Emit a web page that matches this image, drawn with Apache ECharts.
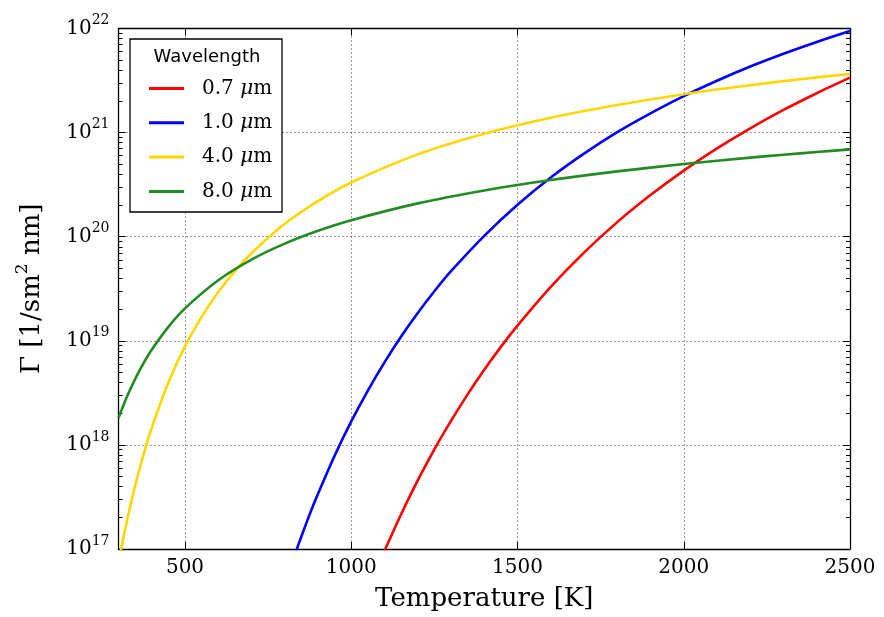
<!DOCTYPE html>
<html>
<head>
<meta charset="utf-8">
<script src="https://cdn.jsdelivr.net/npm/echarts@6/dist/echarts.min.js"></script>
<style>
html,body{margin:0;padding:0;background:#fff;}
#chart{width:884px;height:617px;}
</style>
</head>
<body>
<div id="chart"></div>
<script>
// ---- data ----
const seriesNames = ['0.7', '1.0', '4.0', '8.0'];
const seriesColors = ['#ff0000', '#0000ff', '#ffd700', '#228b22'];

const redT = [1090,1100,1150,1200,1250,1300,1350,1400,1450,1500,1600,1700,1800,1900,2000,2100,2200,2300,2400,2500];
const red = [8.1e16,9.6e16,2.16e17,4.56e17,9.06e17,1.70e18,3.06e18,5.27e18,8.74e18,1.40e19,3.30e19,7.04e19,1.38e20,2.51e20,4.31e20,7.04e20,1.10e21,1.65e21,2.39e21,3.37e21];

const blueT = [830,850,875,900,950,1000,1050,1100,1150,1200,1250,1300,1400,1500,1600,1700,1800,1900,2000,2100,2200,2300,2400,2500];
const blue = [8.8e16,1.32e17,2.15e17,3.39e17,7.88e17,1.68e18,3.33e18,6.21e18,1.10e19,1.85e19,2.99e19,4.66e19,1.02e20,2.03e20,3.71e20,6.29e20,1.01e21,1.53e21,2.24e21,3.15e21,4.31e21,5.72e21,7.43e21,9.46e21];

const yellowT = [300,310,325,350,375,400,450,500,550,600,650,700,800,900,1000,1200,1400,1600,1800,2000,2200,2300,2400,2500];
const yellow = [7.3e16,1.08e17,1.84e17,4.04e17,8.03e17,1.46e18,3.97e18,8.84e18,1.70e19,2.94e19,4.67e19,6.94e19,1.33e20,2.20e20,3.32e20,6.18e20,9.76e20,1.39e21,1.84e21,2.34e21,2.85e21,3.12e21,3.39e21,3.66e21];

const greenT = [300,325,350,375,400,450,500,600,700,800,900,1000,1200,1400,1600,1800,2000,2200,2300,2400,2500];
const green = [1.81e18,2.88e18,4.29e18,6.06e18,8.2e18,1.36e19,2.05e19,3.82e19,6.03e19,8.58e19,1.14e20,1.44e20,2.09e20,2.78e20,3.50e20,4.24e20,4.99e20,5.75e20,6.13e20,6.51e20,6.9e20];

const xTicks = [500, 1000, 1500, 2000, 2500];
const yMinorTicks = [];
for (let e = 17; e < 22; e++) for (let m = 2; m <= 9; m++) yMinorTicks.push(m * Math.pow(10, e));

const xs = [redT, blueT, yellowT, greenT];
const ys = [red, blue, yellow, green];

// ---- chart ----
const chart = echarts.init(document.getElementById('chart'), null, {renderer: 'canvas'});
const SERIF = 'DejaVu Serif';
const frame = {show: true, lineStyle: {color: '#000', width: 1.3}};
const grid = {left: 118.5, top: 28.5, width: 731.5, height: 521};

function yAxisBase(pos, minor) {
  return {
    type: 'log', logBase: 10, min: 1e17, max: 1e22, position: pos,
    axisLine: minor ? {show: false} : frame,
    axisTick: minor
      ? {show: true, inside: true, length: 4, lineStyle: {color: '#000', width: 1}, customValues: yMinorTicks}
      : {show: true, inside: true, length: 7, lineStyle: {color: '#000', width: 1}},
    axisLabel: {show: false},
    splitLine: {show: false},
    minorTick: {show: false}
  };
}

const yMain = yAxisBase('left', false);
yMain.axisLabel = {
  show: true, margin: 9,
  formatter: v => '{b|10}{s|' + Math.round(Math.log10(v)) + '}',
  rich: {
    b: {fontFamily: SERIF, fontSize: 20, color: '#000'},
    s: {fontFamily: SERIF, fontSize: 14, color: '#000', padding: [0, 0, 16, 0]}
  }
};
yMain.splitLine = {show: true, lineStyle: {color: '#333', width: 1, type: [1, 3]}};
yMain.name = '{t|Γ [1/sm}{s|2}{t| nm]}';
yMain.nameLocation = 'middle';
yMain.nameGap = 69;
yMain.nameTextStyle = {
  rich: {
    t: {fontFamily: SERIF, fontSize: 26, color: '#000'},
    s: {fontFamily: SERIF, fontSize: 17, color: '#000', padding: [0, 0, 18, 0]}
  }
};

const option = {
  animation: false,
  backgroundColor: '#fff',
  grid: grid,
  xAxis: [
    {
      type: 'value', min: 300, max: 2500, position: 'bottom',
      axisLine: frame,
      axisTick: {show: true, inside: true, length: 7, lineStyle: {color: '#000'}, customValues: xTicks},
      axisLabel: {show: true, margin: 9, fontFamily: SERIF, fontSize: 20, color: '#000',
                  customValues: xTicks, formatter: v => String(v)},
      splitLine: {show: true, lineStyle: {color: '#333', width: 1, type: [1, 3]}},
      name: 'Temperature [K]', nameLocation: 'middle', nameGap: 37,
      nameTextStyle: {fontFamily: SERIF, fontSize: 26, color: '#000'}
    },
    {
      type: 'value', min: 300, max: 2500, position: 'top',
      axisLine: frame,
      axisTick: {show: true, inside: true, length: 7, lineStyle: {color: '#000'}, customValues: xTicks},
      axisLabel: {show: false},
      splitLine: {show: false}
    }
  ],
  yAxis: [
    yMain,
    yAxisBase('left', true),
    yAxisBase('right', false),
    yAxisBase('right', true)
  ],
  legend: {
    orient: 'vertical', left: 144, top: 73.5, z: 5,
    icon: 'rect', itemWidth: 35, itemHeight: 3, itemGap: 14.3,
    data: seriesNames.map(n => n + ' μm'),
    formatter: name => '{n|' + name.split(' ')[0] + ' }{i|μ}{n|m}',
    textStyle: {
      padding: [0, 0, 0, 13],
      rich: {
        n: {fontFamily: SERIF, fontSize: 20, color: '#000', lineHeight: 20},
        i: {fontFamily: SERIF, fontSize: 20, color: '#000', fontStyle: 'italic', lineHeight: 20}
      }
    }
  },
  graphic: [
    {type: 'rect', z: 4, shape: {x: 130, y: 39, width: 152, height: 173},
     style: {fill: '#fff', stroke: '#000', lineWidth: 1.3}},
    {type: 'text', z: 5, x: 207, y: 57,
     style: {text: 'Wavelength', font: '18px "DejaVu Sans"', fill: '#000', align: 'center', verticalAlign: 'middle'}}
  ],
  series: seriesNames.map((n, i) => ({
    name: n + ' μm', type: 'line', xAxisIndex: 0, yAxisIndex: 0,
    showSymbol: false, symbol: 'none', clip: true,
    smooth: 0.3,
    lineStyle: {color: seriesColors[i], width: 2.6},
    itemStyle: {color: seriesColors[i]},
    z: 2,
    data: xs[i].map((t, j) => [t, ys[i][j]])
  }))
};
chart.setOption(option);
</script>
</body>
</html>
